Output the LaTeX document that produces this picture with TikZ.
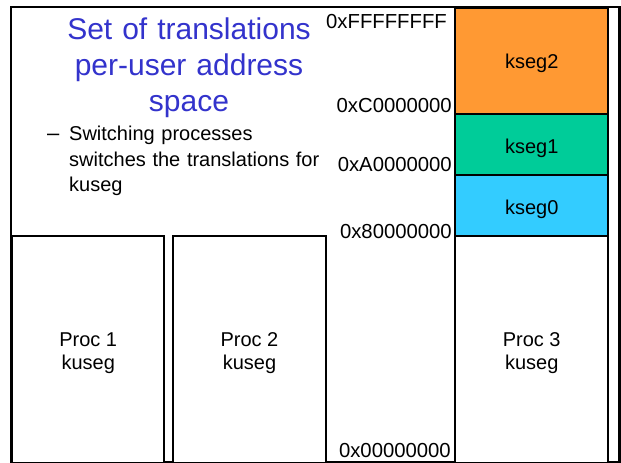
\documentclass[tikz,border=0pt]{standalone}
\usepackage{fontspec}
\setmainfont{Liberation Sans}
\usepackage{xcolor}
\usepackage{tikz}
\usetikzlibrary{positioning}

\definecolor{titleblue}{RGB}{51,51,204}
\definecolor{ksegorange}{RGB}{255,153,51}
\definecolor{kseggreen}{RGB}{0,204,153}
\definecolor{ksegcyan}{RGB}{51,204,255}

\begin{document}
\begin{tikzpicture}[x=1pt, y=-1pt,
    seg/.style={draw, line width=2.4pt, inner sep=0pt, anchor=north west},
    lbl/.style={inner sep=0pt, align=center, font=\fontsize{20}{23.5}\selectfont},
    addr/.style={anchor=base east, inner sep=0pt, font=\fontsize{20.3}{24}\selectfont},
    title/.style={anchor=base, inner sep=0pt, align=center, text width=280pt,
      font=\fontsize{30}{35.8}\selectfont, text=titleblue},
    note/.style={anchor=base west, inner sep=0pt, align=left, text width=270pt,
      font=\fontsize{20}{25.5}\selectfont},
  ]
    \useasboundingbox (0,0) rectangle (621,463);
    \fill[white] (0,0) rectangle (621,463);

    % Outer frame
    \draw[line width=2.4pt] (11,7) rectangle (619.5,462);

    % Heading and note
    \node[title] (head) at (189,39.5) {Set of translations\\per-user address\\space};
    \node[note] (dash) at (47,140) {\fontsize{22}{25.5}\selectfont --};
    \node[note] (note) at (69,140.5) {Switching processes\\switches the translations for\\kuseg};

    % Kernel segments
    \node[seg, fill=ksegorange, minimum width=153pt, minimum height=106pt] (kseg2) at (454,7) {};
    \node[seg, fill=kseggreen, minimum width=153pt, minimum height=61pt] (kseg1) at (454,113) {};
    \node[seg, fill=ksegcyan, minimum width=153pt, minimum height=61pt] (kseg0) at (454,174) {};
    \node[lbl] (t2) at ([yshift=-2pt]kseg2.center) {kseg2};
    \node[lbl] (t1) at ([yshift=-3.5pt]kseg1.center) {kseg1};
    \node[lbl] (t0) at ([yshift=-3.5pt]kseg0.center) {kseg0};

    % User segments
    \node[seg, fill=white, minimum width=152pt, minimum height=227pt] (proc1) at (11,235) {};
    \node[seg, fill=white, minimum width=153.5pt, minimum height=227pt] (proc2) at (171.5,235) {};
    \node[seg, fill=white, minimum width=153pt, minimum height=227pt] (proc3) at (454,235) {};
    \node[lbl] (p1) at ([yshift=-3.5pt]proc1.center) {Proc 1\\kuseg};
    \node[lbl] (p2) at ([yshift=-3.5pt]proc2.center) {Proc 2\\kuseg};
    \node[lbl] (p3) at ([yshift=-3.5pt]proc3.center) {Proc 3\\kuseg};

    % Addresses
    \node[addr] (aF) at (447,28) {0xFFFFFFFF};
    \node[addr] (aC) at (452,112) {0xC0000000};
    \node[addr] (aA) at (452,171) {0xA0000000};
    \node[addr] (a8) at (452,238) {0x80000000};
    \node[addr] (a0) at (451,457) {0x00000000};
  \end{tikzpicture}
\end{document}
